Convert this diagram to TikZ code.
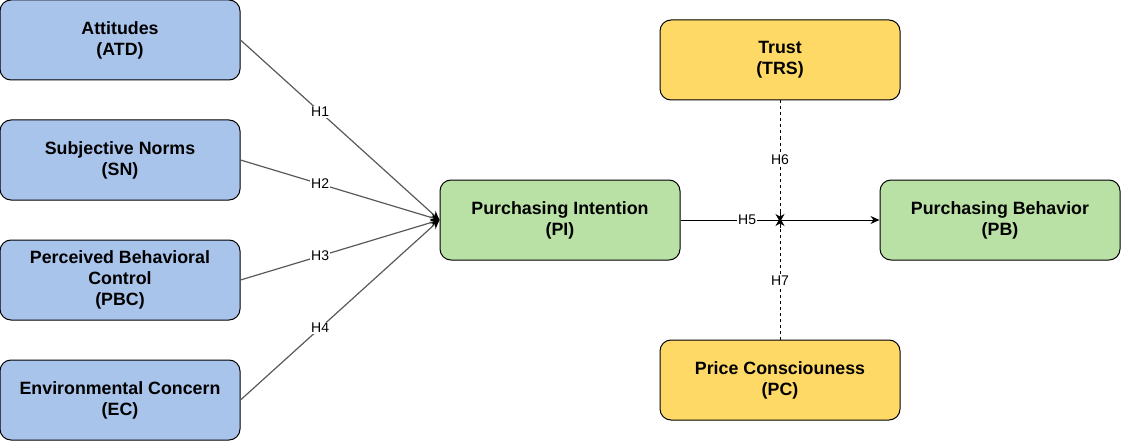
\documentclass[tikz,border=0pt]{standalone}
\usepackage{fontspec}
\setmainfont{Liberation Sans}
\usetikzlibrary{arrows.meta}
\definecolor{bluef}{HTML}{A9C4EB}
\definecolor{greenf}{HTML}{B9E0A5}
\definecolor{yellowf}{HTML}{FFD966}
\definecolor{lgray}{HTML}{595959}
\begin{document}
\begin{tikzpicture}[x=1pt,y=-1pt,
  box/.style={draw=black,line width=1pt,rounded corners=11pt,minimum width=240pt,minimum height=80pt,
    align=center,font=\fontsize{17.8}{21}\selectfont\bfseries,inner sep=0pt},
  bbox/.style={box,fill=bluef},
  gbox/.style={box,fill=greenf},
  ybox/.style={box,fill=yellowf},
  hlab/.style={font=\fontsize{14}{16}\selectfont,fill=white,inner sep=1pt},
  conn/.style={draw=lgray,line width=1.2pt},
  tip/.style={-{Stealth[length=9pt,width=8pt,color=black]}},
  dline/.style={line width=0.8pt,dash pattern=on 3pt off 3pt},
  dtip/.style={line width=0.8pt,-{Stealth[length=8pt,width=9pt]}}
]
\useasboundingbox (0,0) rectangle (1121,441);
\node[bbox] (atd) at (120,40) {Attitudes\\(ATD)};
\node[bbox] (sn) at (120,160) {Subjective Norms\\(SN)};
\node[bbox] (pbc) at (120,280) {Perceived Behavioral\\Control\\(PBC)};
\node[bbox] (ec) at (120,400) {Environmental Concern\\(EC)};
\node[gbox] (pi) at (560,220) {Purchasing Intention\\(PI)};
\node[gbox] (pb) at (1000,220) {Purchasing Behavior\\(PB)};
\node[ybox] (trs) at (780,60) {Trust\\(TRS)};
\node[ybox] (pc) at (780,380) {Price Consciouness\\(PC)};
\coordinate (j) at (780,220);
\coordinate (jt) at (780,218);
\coordinate (jb) at (780,222);
\draw[conn,tip] (atd.east) -- node[hlab,pos=0.4] {H1} (pi.west);
\draw[conn,tip] (sn.east) -- node[hlab,pos=0.4] {H2} (pi.west);
\draw[conn,tip] (pbc.east) -- node[hlab,pos=0.4] {H3} (pi.west);
\draw[conn,tip] (ec.east) -- node[hlab,pos=0.4] {H4} (pi.west);
\draw[line width=1pt,-{Stealth[length=9pt,width=8pt]}] (pi.east) -- node[hlab,pos=0.335] {H5} (pb.west);
\draw[dline] (trs.south) -- node[hlab,pos=0.5] {H6} (jt);
\draw[dtip] ([yshift=-10pt]jt) -- (jt);
\draw[dline] (pc.north) -- node[hlab,pos=0.5] {H7} (jb);
\draw[dtip] ([yshift=10pt]jb) -- (jb);
\end{tikzpicture}
\end{document}
